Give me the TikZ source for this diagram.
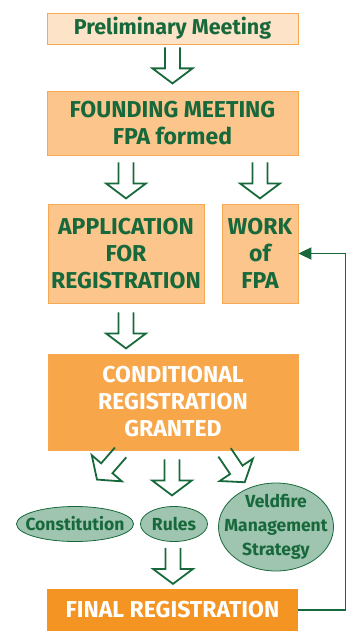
\documentclass[tikz,border=0pt]{standalone}
\usepackage{fontspec}
\setmainfont{Fira Sans}
\usetikzlibrary{arrows.meta,shapes.geometric,calc}

\definecolor{fpagreen}{HTML}{17693B}
\definecolor{peachlight}{HTML}{FDE4C8}
\definecolor{peach}{HTML}{FBC58C}
\definecolor{orangemid}{HTML}{F8A64A}
\definecolor{orangedark}{HTML}{F39423}
\definecolor{orangeline}{HTML}{F7A951}
\definecolor{sage}{HTML}{9FC5B1}

\begin{document}
\begin{tikzpicture}[x=1pt, y=-1pt,
    box/.style={draw=orangeline, line width=0.8pt, fill=peach, text=fpagreen,
      font=\bfseries\fontsize{23}{27}\selectfont, align=center, inner sep=0pt},
    oval/.style={ellipse, draw=fpagreen, line width=0.8pt, fill=sage, inner sep=0pt},
    ovaltext/.style={text=fpagreen, font=\bfseries\fontsize{17.5}{24}\selectfont, align=center, inner sep=0pt},
    blockarrow/.pic={
      \draw[fpagreen, line width=1.8pt, line join=miter] (-7.5,0) -- ++(0,21)
        -- ++(-12.5,0) -- ++(20,15) -- ++(20,-15) -- ++(-12.5,0) -- ++(0,-21);
    }]
	\useasboundingbox (0,0) rectangle (354,631);

	% boxes
	\node[box, fill=peachlight, font=\bfseries\fontsize{21.5}{27}\selectfont, minimum width=251pt, minimum height=31pt] (prelim) at (172.5,28.5) {Preliminary Meeting};
	\node[box, minimum width=251pt, minimum height=64pt] (found) at (172.5,123) {FOUNDING MEETING\\FPA formed};
	\node[box, minimum width=156pt, minimum height=99pt] (app) at (126,253.5) {APPLICATION\\FOR\\REGISTRATION};
	\node[box, minimum width=76pt, minimum height=99pt] (work) at (260,253.5) {WORK\\of\\FPA};
	\node[box, fill=orangemid, text=white, minimum width=250pt, minimum height=96pt] (cond) at (173,402) {CONDITIONAL\\REGISTRATION\\GRANTED};
	\node[box, draw=none, fill=orangedark, text=white, minimum width=251pt, minimum height=42pt] (final) at (172.5,610) {FINAL REGISTRATION};

	% ellipses
	\node[oval, minimum width=117pt, minimum height=35pt, label={[ovaltext]center:Constitution}] (const) at (75,524) {};
	\node[oval, minimum width=67pt, minimum height=35pt, label={[ovaltext]center:Rules}] (rules) at (174,524) {};
	\node[oval, minimum width=115pt, minimum height=88pt, label={[ovaltext]center:Veldfire\\Management\\Strategy}] (veld) at (276,527) {};

	% block arrows
	\pic[yshift=-3pt] at (prelim.south) {blockarrow};
	\pic[yshift=-7pt] at (app.north |- found.south) {blockarrow};
	\pic[yshift=-7pt] at (work.north |- found.south) {blockarrow};
	\pic[yshift=-9pt] at (app.south) {blockarrow};
	\pic[rotate=-41] at ($(cond.south west)+(73,2)$) {blockarrow};
	\pic at ($(rules.north |- cond.south)+(-2,9)$) {blockarrow};
	\pic[rotate=34] at ($(cond.south west)+(177,2)$) {blockarrow};
	\pic at ($(rules.south)+(-1,6)$) {blockarrow};

	% feedback
	\draw[fpagreen, line width=1.8pt, -{Triangle[length=13pt,width=12pt]}] (final.east) -- ++(47,0) |- (work.east);
\end{tikzpicture}
\end{document}
